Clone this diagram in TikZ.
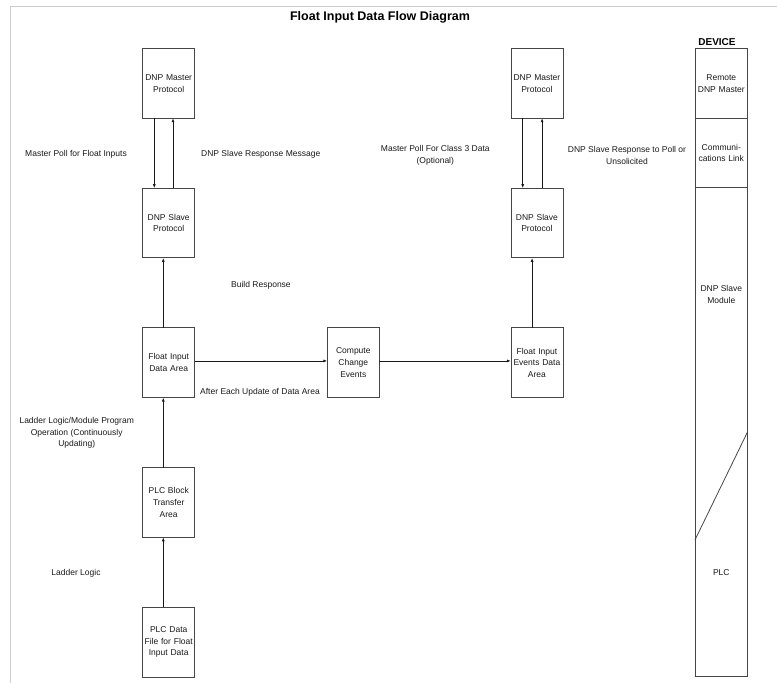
\documentclass[tikz,border=0pt]{standalone}
\usepackage{fontspec}
\setmainfont{Liberation Sans}
\usetikzlibrary{arrows.meta, positioning}
\definecolor{mydark}{RGB}{25,25,25}
\definecolor{myedge}{RGB}{70,70,70}
\definecolor{myframe}{RGB}{205,205,205}
\newcommand{\diagfont}{\fontsize{8.5}{11.7}\selectfont}
\tikzset{
  block/.style={rectangle, draw=myedge, line width=0.8pt,
    minimum width=52pt, minimum height=69.7pt, text width=50pt,
    inner sep=0pt, outer sep=0pt, align=center, font=\diagfont, text=mydark},
  note/.style={font=\diagfont, text=mydark, align=center, inner sep=0pt},
  arrow/.style={-{Latex[length=4pt,width=3pt]}, line width=0.8pt, color=mydark},
  line/.style={line width=0.8pt, color=myedge}
}
\begin{document}
\begin{tikzpicture}[x=1pt, y=-1pt]
  \useasboundingbox (0,0) rectangle (777,683);
  % page frame
  \draw[myframe, line width=0.8pt] (10.5,683) -- (10.5,6) -- (777,6);
  \node[font=\fontsize{12.5}{14}\selectfont\bfseries] (title) at (380,17)
    {Float Input Data Flow Diagram};
  % Left column
  \node[block] (lmaster) at (168.7,83.3) {DNP Master\\Protocol};
  \node[block, below=70pt of lmaster] (lslave) {DNP Slave\\Protocol};
  \node[block, below=70pt of lslave] (fdata) {Float Input\\Data Area};
  \node[block, below=70pt of fdata] (bt) {PLC Block\\Transfer\\Area};
  \node[block, below=70pt of bt] (dfile) {PLC Data\\File for Float\\Input Data};
  % Middle and right column
  \node[block, right=132.6pt of fdata] (change) {Compute\\Change\\Events};
  \node[block, right=131.6pt of change] (events) {Float Input\\Events Data\\Area};
  \node[block, above=70pt of events] (rslave) {DNP Slave\\Protocol};
  \node[block, above=70pt of rslave] (rmaster) {DNP Master\\Protocol};
  % Device column
  \node[font=\fontsize{10}{12}\selectfont\bfseries] (devlbl) at (717,42) {DEVICE};
  \node[block, minimum width=52.7pt] (remote) at (721.3,83.3) {Remote\\DNP Master};
  \node[block, minimum width=52.7pt, below=0pt of remote] (comm) {Communi-\\cations Link};
  \node[block, minimum width=52.7pt, minimum height=488.7pt, below=0pt of comm] (dev) {};
  \node[note] (slavemod) at (721.3,294.5) {DNP Slave\\Module};
  \node[note] (plc) at (721.3,572.3) {PLC};
  \draw[line] (dev.east |- 0,431.7) -- (dev.west |- 0,540);
  % Connectors
  \draw[arrow] ([xshift=-14.4pt]lmaster.south) -- ([xshift=-14.4pt]lslave.north);
  \draw[arrow] ([xshift=4.3pt]lslave.north) -- ([xshift=4.3pt]lmaster.south);
  \draw[arrow] ([xshift=-5.4pt]fdata.north) -- ([xshift=-5.4pt]lslave.south);
  \draw[arrow] ([xshift=-5.4pt]dfile.north) -- ([xshift=-5.4pt]bt.south);
  \draw[arrow] ([xshift=-5.4pt]bt.north) -- ([xshift=-5.4pt]fdata.south);
  \draw[arrow] ([yshift=1.8pt]fdata.east) -- ([yshift=1.8pt]change.west);
  \draw[arrow] ([yshift=1.8pt]change.east) -- ([yshift=1.8pt]events.west);
  \draw[arrow] ([xshift=-4.8pt]events.north) -- ([xshift=-4.8pt]rslave.south);
  \draw[arrow] ([xshift=-14.2pt]rmaster.south) -- ([xshift=-14.2pt]rslave.north);
  \draw[arrow] ([xshift=5.2pt]rslave.north) -- ([xshift=5.2pt]rmaster.south);
  % Labels
  \node[note] (poll) at (76,154) {Master Poll for Float Inputs};
  \node[note, anchor=west] (resp) at (201,154) {DNP Slave Response Message};
  \node[note, anchor=west] (build) at (231,285) {Build Response};
  \node[note, anchor=west] (update) at (200,392) {After Each Update of Data Area};
  \node[note] (ladprog) at (76.7,433) {Ladder Logic/Module Program\\Operation (Continuously\\Updating)};
  \node[note] (ladder) at (76,573) {Ladder Logic};
  \node[note] (poll3) at (435.3,155.5) {Master Poll For Class 3 Data\\(Optional)};
  \node[note] (resp3) at (627,155.5) {DNP Slave Response to Poll or\\Unsolicited};
\end{tikzpicture}
\end{document}
